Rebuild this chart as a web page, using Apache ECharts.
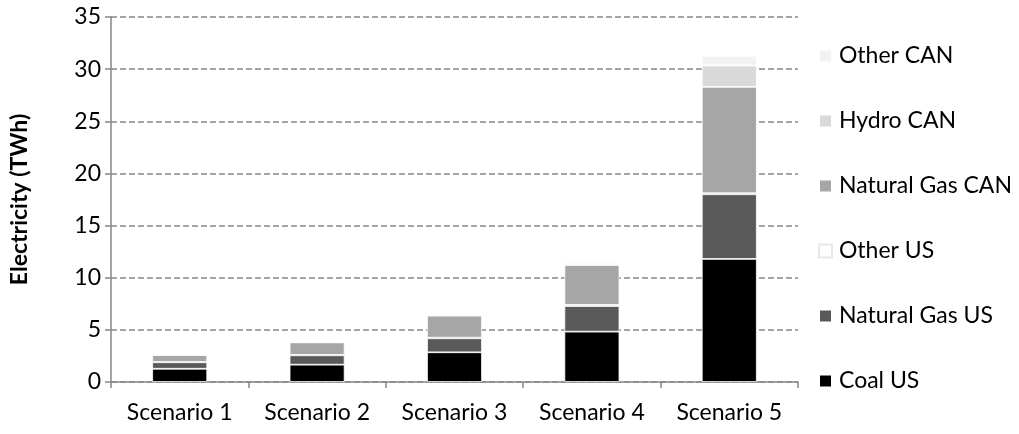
<!DOCTYPE html>
<html>
<head>
<meta charset="utf-8">
<script src="https://cdn.jsdelivr.net/npm/echarts@6/dist/echarts.min.js"></script>
<style>
  html, body { margin: 0; padding: 0; background: #fff; }
  #chart { width: 1019px; height: 434px; }
</style>
</head>
<body>
<div id="chart"></div>
<script>
// Electricity supply by source under five scenarios (TWh)
const scenarios = ['Scenario 1', 'Scenario 2', 'Scenario 3', 'Scenario 4', 'Scenario 5'];

const coalUS       = [1.27, 1.66, 2.85, 4.83, 11.8];
const naturalGasUS = [0.62, 0.90, 1.34, 2.46, 6.2];
const otherUS      = [0.03, 0.04, 0.06, 0.10, 0.1];
const naturalGasCAN= [0.67, 1.20, 2.11, 3.83, 10.2];
const hydroCAN     = [0.03, 0.05, 0.10, 0.16, 2.05];
const otherCAN     = [0.02, 0.03, 0.06, 0.16, 0.93];

const seriesDefs = [
  { name: 'Coal US',         data: coalUS,        color: '#000000' },
  { name: 'Natural Gas US',  data: naturalGasUS,  color: '#595959' },
  { name: 'Other US',        data: otherUS,       color: '#ffffff' },
  { name: 'Natural Gas CAN', data: naturalGasCAN, color: '#a6a6a6' },
  { name: 'Hydro CAN',       data: hydroCAN,      color: '#d9d9d9' },
  { name: 'Other CAN',       data: otherCAN,      color: '#f2f2f2' }
];

const yTicks = { min: 0, max: 35, interval: 5 };
const fontFamily = 'Lato, "Open Sans", sans-serif';

const chart = echarts.init(document.getElementById('chart'), null, { renderer: 'canvas' });

chart.setOption({
  animation: false,
  backgroundColor: '#ffffff',
  textStyle: { fontFamily: fontFamily },
  grid: { left: 108, right: 221, top: 17, bottom: 52, containLabel: false },
  legend: {
    orient: 'vertical',
    left: 813,
    top: 39,
    itemWidth: 13,
    itemHeight: 13,
    itemGap: 41,
    icon: 'rect',
    data: seriesDefs.map(s => s.name).reverse(),
    textStyle: { fontSize: 23, color: '#000', fontFamily: fontFamily, lineHeight: 24, padding: [0, 0, 0, 2] }
  },
  xAxis: {
    type: 'category',
    data: scenarios,
    axisLine: { lineStyle: { color: '#868686', width: 1.5 } },
    axisTick: { show: true, length: 6, alignWithLabel: false, lineStyle: { color: '#868686', width: 1.5 } },
    axisLabel: { color: '#000', fontSize: 23, margin: 19, interval: 0, hideOverlap: false, fontFamily: fontFamily }
  },
  yAxis: {
    type: 'value',
    min: yTicks.min,
    max: yTicks.max,
    interval: yTicks.interval,
    name: 'Electricity (TWh)',
    nameLocation: 'middle',
    nameGap: 80,
    nameTextStyle: { fontSize: 23, fontWeight: 'bold', color: '#000', fontFamily: fontFamily },
    axisLine: { show: true, lineStyle: { color: '#868686', width: 1.5 } },
    axisTick: { show: true, length: 6, lineStyle: { color: '#868686', width: 1.5 } },
    axisLabel: { color: '#000', fontSize: 23, margin: 10, fontFamily: fontFamily },
    splitLine: { show: true, lineStyle: { color: '#868686', width: 1.5, type: [6, 3] } }
  },
  series: seriesDefs.map(s => ({
    name: s.name,
    type: 'bar',
    stack: 'total',
    barWidth: 55,
    data: s.data,
    itemStyle: {
      color: s.color,
      borderColor: s.name === 'Other US' ? '#e8e8e8' : '#ffffff',
      borderWidth: s.name === 'Other US' ? 0.6 : 0.8
    },
    emphasis: { disabled: true }
  }))
});
</script>
</body>
</html>
